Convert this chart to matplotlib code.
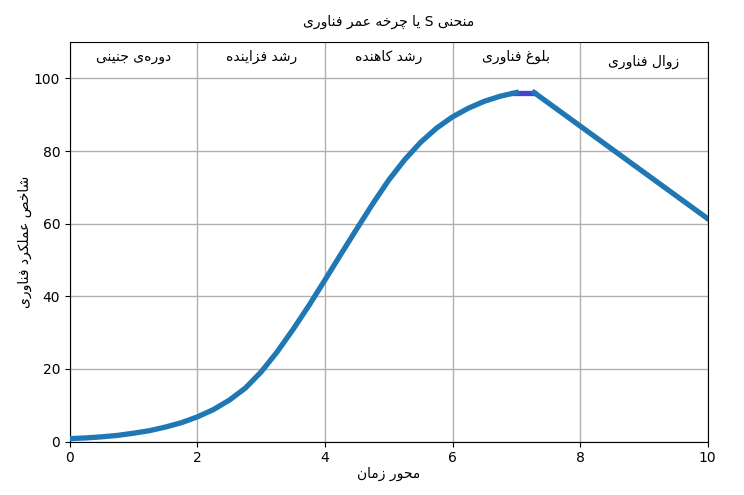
import matplotlib
matplotlib.use("Agg")
import matplotlib.pyplot as plt

# --- داده‌ها (خوانده شده از تصویر) ---
rise_x = [0, 0.25, 0.5, 0.75, 1, 1.25, 1.5, 1.75, 2, 2.25, 2.5, 2.75, 3, 3.25,
          3.5, 3.75, 4, 4.25, 4.5, 4.75, 5, 5.25, 5.5, 5.75, 6, 6.25, 6.5,
          6.75, 7]
rise_y = [0.8, 1.0, 1.3, 1.7, 2.3, 3.0, 4.0, 5.2, 6.8, 8.8, 11.4, 14.7, 19.2,
          24.7, 30.9, 37.5, 44.5, 51.6, 58.6, 65.5, 72.0, 77.6, 82.4, 86.3,
          89.4, 91.8, 93.7, 95.1, 96.1]
plateau_x = [6.95, 7.28]
plateau_y = [96.1, 96.1]
decline_x = [7.28, 10]
decline_y = [96.1, 61.4]

phase_labels = ["دوره‌ی جنینی", "رشد فزاینده", "رشد کاهنده", "بلوغ فناوری", "زوال فناوری"]
phase_x = [1, 3, 5, 7, 9]
phase_y = [106, 106, 106, 106, 104.5]

title = "منحنی S یا چرخه عمر فناوری"
xlabel = "محور زمان"
ylabel = "شاخص عملکرد فناوری"

# --- شکل‌دهی ساده حروف فارسی (بدون کتابخانه‌ی بیرونی) ---
# (isolated, final, initial, medial) ; None = فقط از راست وصل می‌شود
FORMS = {
    "ا": ("\uFE8D", "\uFE8E", None, None),
    "ب": ("\uFE8F", "\uFE90", "\uFE91", "\uFE92"),
    "ج": ("\uFE9D", "\uFE9E", "\uFE9F", "\uFEA0"),
    "ح": ("\uFEA1", "\uFEA2", "\uFEA3", "\uFEA4"),
    "خ": ("\uFEA5", "\uFEA6", "\uFEA7", "\uFEA8"),
    "د": ("\uFEA9", "\uFEAA", None, None),
    "ر": ("\uFEAD", "\uFEAE", None, None),
    "ز": ("\uFEAF", "\uFEB0", None, None),
    "ش": ("\uFEB5", "\uFEB6", "\uFEB7", "\uFEB8"),
    "ص": ("\uFEB9", "\uFEBA", "\uFEBB", "\uFEBC"),
    "ع": ("\uFEC9", "\uFECA", "\uFECB", "\uFECC"),
    "غ": ("\uFECD", "\uFECE", "\uFECF", "\uFED0"),
    "ف": ("\uFED1", "\uFED2", "\uFED3", "\uFED4"),
    "ک": ("\uFB8E", "\uFB8F", "\uFB90", "\uFB91"),
    "ل": ("\uFEDD", "\uFEDE", "\uFEDF", "\uFEE0"),
    "م": ("\uFEE1", "\uFEE2", "\uFEE3", "\uFEE4"),
    "ن": ("\uFEE5", "\uFEE6", "\uFEE7", "\uFEE8"),
    "ه": ("\uFEE9", "\uFEEA", "\uFEEB", "\uFEEC"),
    "و": ("\uFEED", "\uFEEE", None, None),
    "ی": ("\uFBFC", "\uFBFD", "\uFBFE", "\uFBFF"),
    "چ": ("\uFB7A", "\uFB7B", "\uFB7C", "\uFB7D"),
}


def dual(c):
    return c in FORMS and FORMS[c][2] is not None


def fa(text):
    out = []
    for i, c in enumerate(text):
        if c not in FORMS:
            if c != "\u200c":
                out.append(c)
            continue
        prev = text[i - 1] if i > 0 else ""
        nxt = text[i + 1] if i + 1 < len(text) else ""
        join_prev = dual(prev)
        join_next = dual(c) and nxt in FORMS
        iso, fin, ini, med = FORMS[c]
        if join_prev and join_next:
            out.append(med)
        elif join_prev:
            out.append(fin)
        elif join_next:
            out.append(ini)
        else:
            out.append(iso)
    return "".join(reversed(out))


plt.rcParams["font.family"] = ["DejaVu Sans"]

fig, ax = plt.subplots(figsize=(7.44, 4.95), dpi=100)

ax.plot(plateau_x, plateau_y, color="#4444d4", lw=3.8, zorder=2)
ax.plot(rise_x, rise_y, color="#1f77b4", lw=3.8, zorder=3)
ax.plot(decline_x, decline_y, color="#1f77b4", lw=3.8, zorder=3)

for lab, px, py in zip(phase_labels, phase_x, phase_y):
    ax.text(px, py, fa(lab), ha="center", va="center", fontsize=10)

ax.set_xlim(0, 10)
ax.set_ylim(0, 110)
ax.grid(True, color="#b0b0b0", lw=1)
ax.set_title(fa(title), fontsize=10, pad=12)
ax.set_xlabel(fa(xlabel), fontsize=10, labelpad=1)
ax.set_ylabel(fa(ylabel), fontsize=10, labelpad=1)

fig.subplots_adjust(left=0.094, right=0.951, top=0.915, bottom=0.108)
fig.savefig("out.png", dpi=100)
